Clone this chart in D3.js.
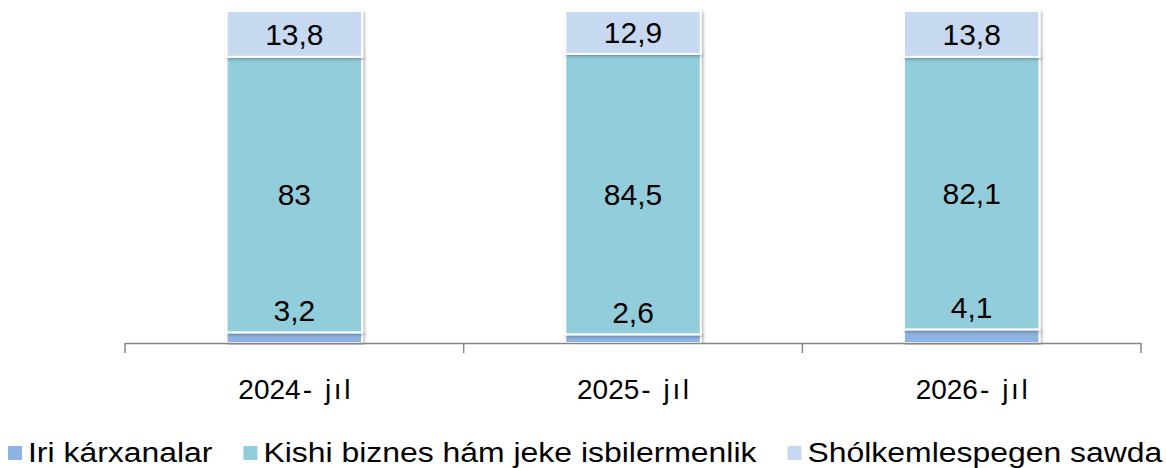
<!DOCTYPE html>
<html>
<head>
<meta charset="utf-8">
<script src="https://cdn.jsdelivr.net/npm/d3@7"></script>
<style>
  body { margin: 0; background: #fff; }
  text { font-family: "Liberation Sans", Arial, sans-serif; fill: #000; }
</style>
</head>
<body>
<script>
const years = ['2024- jıl', '2025- jıl', '2026- jıl'];
const seriesNames = ['Iri kárxanalar', 'Kishi biznes hám jeke isbilermenlik', 'Shólkemlespegen sawda'];
const iri = [3.2, 2.6, 4.1];
const kishi = [83, 84.5, 82.1];
const sholkem = [13.8, 12.9, 13.8];
const labelText = [['3,2', '2,6', '4,1'], ['83', '84,5', '82,1'], ['13,8', '12,9', '13,8']];

const colors = ['#8DB3E2', '#92CDDC', '#C6D9F1'];

let width = 1166,
    height = 468;

let svg = d3.select('body')
    .append('svg')
    .attr('width', width)
    .attr('height', height);

// soft shadow like the office chart
let defs = svg.append('defs');
let f = defs.append('filter')
    .attr('id', 'shadow')
    .attr('x', '-10%').attr('y', '-10%')
    .attr('width', '120%').attr('height', '120%');
f.append('feDropShadow')
    .attr('dx', 1.5).attr('dy', 1.5)
    .attr('stdDeviation', 1.8)
    .attr('flood-color', '#000')
    .attr('flood-opacity', 0.3);

let x = d3.scaleBand()
    .domain(years)
    .range([125, 1141])
    .paddingInner(0.6)
    .paddingOuter(0.3);

let y = d3.scaleLinear()
    .domain([0, 100])
    .range([343, 11]);

let rows = years.map((yr, i) => ({ year: yr, iri: iri[i], kishi: kishi[i], sholkem: sholkem[i] }));
let stack = d3.stack().keys(['iri', 'kishi', 'sholkem'])(rows);

// bars
let barG = svg.append('g');
stack.forEach((layer, k) => {
    barG.selectAll('.s' + k)
        .data(layer)
        .enter()
        .append('rect')
        .attr('x', d => x(d.data.year))
        .attr('y', d => y(d[1]))
        .attr('width', x.bandwidth())
        .attr('height', d => y(d[0]) - y(d[1]))
        .attr('fill', colors[k])
        .attr('stroke', '#fff')
        .attr('stroke-width', 2)
        .attr('filter', 'url(#shadow)');
});

// axis
let axisBand = d3.scalePoint().domain([0, 1, 2, 3]).range([125, 1141]);
svg.append('line')
    .attr('x1', 125).attr('x2', 1141)
    .attr('y1', 343.5).attr('y2', 343.5)
    .attr('stroke', '#868686')
    .attr('stroke-width', 1.5);
svg.selectAll('.tick')
    .data(axisBand.domain())
    .enter()
    .append('line')
    .attr('x1', d => axisBand(d)).attr('x2', d => axisBand(d))
    .attr('y1', 343).attr('y2', 353)
    .attr('stroke', '#868686')
    .attr('stroke-width', 1.5);

// year labels: digits tight, the "- jıl" part a little looser
let xl = svg.selectAll('.xlab')
    .data(years)
    .enter()
    .append('text')
    .attr('x', d => x(d) + x.bandwidth() / 2 - 56)
    .attr('y', 399)
    .style('font-size', '28px');
xl.append('tspan').text(d => d.slice(0, 4));
xl.append('tspan')
    .attr('dx', 2)
    .style('letter-spacing', '2.6px')
    .text(d => d.slice(4));

// data labels
stack.forEach((layer, k) => {
    svg.selectAll('.l' + k)
        .data(layer)
        .enter()
        .append('text')
        .attr('x', d => x(d.data.year) + x.bandwidth() / 2)
        .attr('y', d => k === 0 ? y(d[1]) - 22 : y((d[0] + d[1]) / 2))
        .attr('dy', '0.36em')
        .attr('text-anchor', 'middle')
        .style('font-size', '30px')
        .text((d, i) => labelText[k][i]);
});

// legend (text is a bit wide in the original)
let stretch = 1.14;
let lx = 8;
seriesNames.forEach((name, k) => {
    svg.append('rect')
        .attr('x', lx).attr('y', 446)
        .attr('width', 14).attr('height', 14)
        .attr('fill', colors[k]);
    let t = svg.append('text')
        .attr('transform', 'translate(' + (lx + 20) + ',462) scale(' + stretch + ',1)')
        .style('font-size', '28px')
        .text(name);
    lx += 20 + t.node().getComputedTextLength() * stretch + 31;
});
</script>
</body>
</html>
